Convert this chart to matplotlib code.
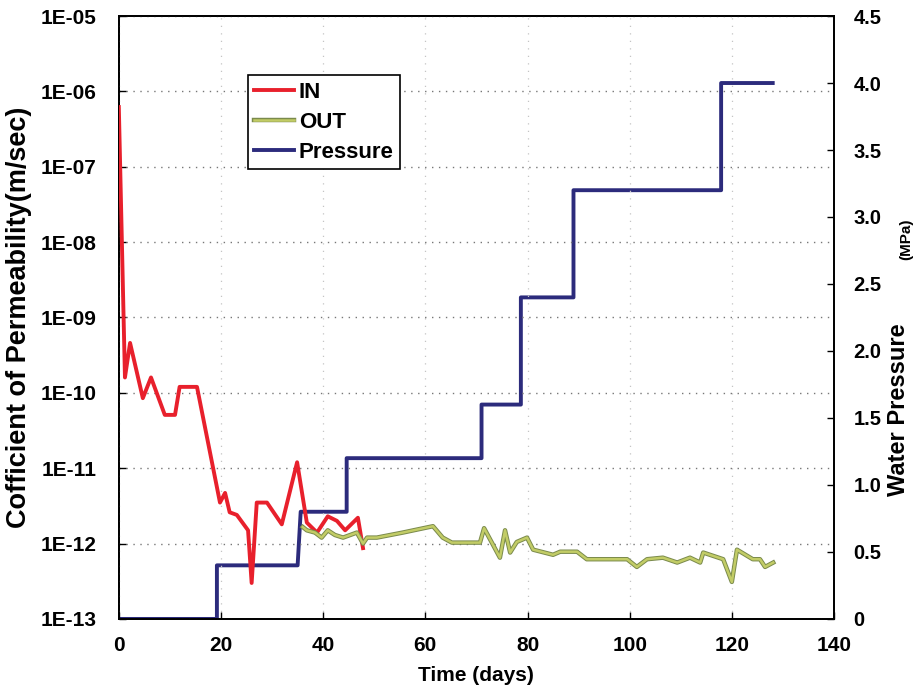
import math

import matplotlib.pyplot as plt
import matplotlib.patheffects as pe
from matplotlib.ticker import FixedLocator, FuncFormatter

plt.rcParams['font.family'] = ['Liberation Sans', 'DejaVu Sans']
plt.rcParams['font.weight'] = 'bold'

# permeability measured at the inflow side
in_days = [0.0, 1.2, 2.2, 4.7, 6.3, 9.0, 11.0, 11.9, 15.3, 19.8, 20.8, 21.7, 23.1, 25.3,
           26.0, 27.0, 29.0, 31.9, 34.9, 36.8, 38.8, 40.9, 42.7, 44.3, 46.8, 47.8]
in_perm = [6.2e-7, 1.6e-10, 4.6e-10, 8.5e-11, 1.6e-10, 5.1e-11, 5.1e-11, 1.2e-10, 1.2e-10,
           3.5e-12, 4.7e-12, 2.6e-12, 2.4e-12, 1.5e-12, 3.0e-13, 3.5e-12, 3.5e-12, 1.8e-12,
           1.2e-11, 1.9e-12, 1.4e-12, 2.3e-12, 2.0e-12, 1.5e-12, 2.2e-12, 8.7e-13]

# permeability measured at the outflow side
out_days = [36.0, 36.8, 38.4, 39.7, 40.9, 42.3, 43.9, 46.6, 47.8, 48.6, 50.5, 55.6, 61.5,
            63.4, 65.2, 70.7, 71.5, 74.6, 75.6, 76.6, 77.9, 79.9, 81.1, 85.0, 86.4, 89.7,
            91.6, 99.5, 101.4, 103.4, 106.5, 109.3, 111.8, 113.8, 114.4, 118.3, 120.0,
            121.0, 124.1, 125.5, 126.5, 128.1]
out_perm = [1.66e-12, 1.5e-12, 1.4e-12, 1.2e-12, 1.5e-12, 1.3e-12, 1.2e-12, 1.4e-12, 1.0e-12,
            1.2e-12, 1.2e-12, 1.4e-12, 1.7e-12, 1.2e-12, 1.03e-12, 1.03e-12, 1.6e-12, 6.5e-13,
            1.5e-12, 7.6e-13, 1.05e-12, 1.2e-12, 8.3e-13, 7.1e-13, 7.8e-13, 7.8e-13, 6.2e-13,
            6.2e-13, 4.9e-13, 6.2e-13, 6.5e-13, 5.6e-13, 6.5e-13, 5.6e-13, 7.6e-13, 6.2e-13,
            3.1e-13, 8.3e-13, 6.2e-13, 6.2e-13, 4.9e-13, 5.6e-13]

# stepwise water pressure loading (MPa)
p_days = [0, 19.2, 19.2, 35.0, 35.6, 44.6, 44.6, 71.0, 71.0, 78.7, 78.7, 89.0, 89.0,
          117.9, 117.9, 128.0]
p_mpa = [0, 0, 0.4, 0.4, 0.8, 0.8, 1.2, 1.2, 1.6, 1.6, 2.4, 2.4, 3.2, 3.2, 4.0, 4.0]

yticks_left = [1e-13, 1e-12, 1e-11, 1e-10, 1e-9, 1e-8, 1e-7, 1e-6, 1e-5]
yticks_right = [0, 0.5, 1.0, 1.5, 2.0, 2.5, 3.0, 3.5, 4.0, 4.5]
xticks = [0, 20, 40, 60, 80, 100, 120, 140]

fig = plt.figure(figsize=(9.14, 6.97), dpi=100)
ax = fig.add_axes([0.130, 0.112, 0.7825, 0.865])
ax2 = ax.twinx()

ax.set_yscale('log')
ax.set_ylim(1e-13, 1e-5)
ax.set_xlim(0, 140)
ax2.set_ylim(0, 4.5)

l_in, = ax.plot(in_days, in_perm, color='#e8202c', lw=2.8, label='IN', zorder=3)
l_out, = ax.plot(out_days, out_perm, color='#c2cc66', lw=1.8, label='OUT', zorder=4,
                 path_effects=[pe.Stroke(linewidth=3.2, foreground='#7a8a4c'), pe.Normal()])
l_p, = ax2.plot(p_days, p_mpa, color='#2c2b7c', lw=2.8, label='Pressure')

ax.yaxis.set_major_locator(FixedLocator(yticks_left))
ax.yaxis.set_minor_locator(FixedLocator([]))
ax.yaxis.set_major_formatter(FuncFormatter(lambda v, pos: '1E-%02d' % round(-math.log10(v))))
ax.set_xticks(xticks)
ax2.set_yticks(yticks_right)
ax2.set_yticklabels(['0' if v == 0 else '%.1f' % v for v in yticks_right])

ax.grid(True, axis='y', linestyle=(0, (1, 4)), color='#777777', lw=1.0)
ax.grid(True, axis='x', linestyle=(0, (1, 5)), color='#c4c4c4', lw=0.9)
ax.tick_params(direction='in', length=5, labelsize=15, width=1)
ax2.tick_params(direction='in', length=5, labelsize=14.5, width=1)
ax.tick_params(axis='x', pad=12)
ax.tick_params(axis='y', pad=16)
ax2.tick_params(axis='y', pad=14)
for a in (ax, ax2):
    for s in a.spines.values():
        s.set_linewidth(1.3)

ax.set_ylabel('Cofficient of Permeability(m/sec)', fontsize=19.5, fontweight='bold', labelpad=6)
ax.set_xlabel('Time (days)', fontsize=15, fontweight='bold', labelpad=8)
fig.text(0.983, 0.412, 'Water Pressure', rotation=90, fontsize=17, fontweight='bold',
         ha='center', va='center')
fig.text(0.991, 0.657, '(MPa)', rotation=90, fontsize=11, fontweight='bold',
         ha='center', va='center')

leg = ax.legend(handles=[l_in, l_out, l_p], loc='upper left', bbox_to_anchor=(0.18, 0.902),
                fancybox=False, framealpha=1, edgecolor='black', fontsize=16,
                handlelength=1.8, handletextpad=0.2, borderpad=0.3, labelspacing=0.4,
                borderaxespad=0)
leg.get_frame().set_linewidth(1.2)
leg.set_zorder(10)
ax.set_zorder(ax2.get_zorder() + 1)
ax.patch.set_visible(False)

fig.savefig('out.png', dpi=100)
